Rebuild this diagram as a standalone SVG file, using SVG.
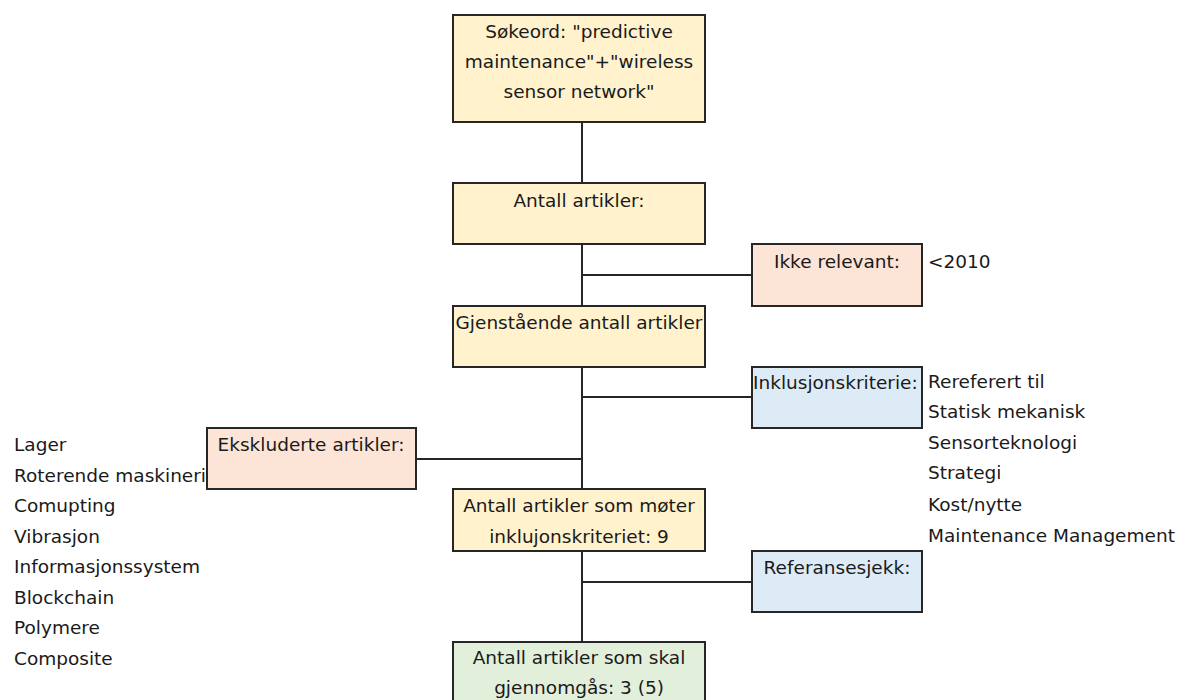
<svg xmlns="http://www.w3.org/2000/svg" width="1182" height="700" viewBox="0 0 1182 700">
<style>
text{font-family:"DejaVu Sans","Liberation Sans",sans-serif;font-size:18.5px;fill:#1a1a1a}
.c{text-anchor:middle}
.box{stroke:#262626;stroke-width:2}
.y{fill:#FFF2CC}.p{fill:#FCE4D6}.b{fill:#DDEBF7}.g{fill:#E2EFDA}
.ln{stroke:#262626;stroke-width:2;fill:none}
</style>
<rect width="1182" height="700" fill="#fff"/>
<g id="connectors">
<path class="ln" d="M582 122V642M582 275H752M582 397H752M416 459H582M582 582H752"/>
</g>
<g id="n1"><rect class="box y" x="453" y="15" width="252" height="107"/>
<text class="c" x="579" y="38">Søkeord: "predictive</text>
<text class="c" x="579" y="68">maintenance"+"wireless</text>
<text class="c" x="579" y="98">sensor network"</text></g>
<g id="n2"><rect class="box y" x="453" y="183" width="252" height="61"/>
<text class="c" x="579" y="207">Antall artikler:</text></g>
<g id="n3"><rect class="box p" x="752" y="244" width="170" height="62"/>
<text class="c" x="837" y="268">Ikke relevant:</text></g>
<text x="928" y="268">&lt;2010</text>
<g id="n4"><rect class="box y" x="453" y="306" width="252" height="61"/>
<text class="c" x="579" y="329">Gjenstående antall artikler</text></g>
<g id="n5"><rect class="box b" x="752" y="367" width="170" height="61"/>
<text x="753" y="389">Inklusjonskriterie:</text></g>
<g id="incl">
<text x="928" y="388">Rereferert til</text>
<text x="928" y="418">Statisk mekanisk</text>
<text x="928" y="449">Sensorteknologi</text>
<text x="928" y="479">Strategi</text>
<text x="928" y="511">Kost/nytte</text>
<text x="928" y="542">Maintenance Management</text>
</g>
<g id="n6"><rect class="box p" x="207" y="428" width="209" height="61"/>
<text class="c" x="311" y="451">Ekskluderte artikler:</text></g>
<g id="excl">
<text x="14" y="451">Lager</text>
<text x="14" y="482">Roterende maskineri</text>
<text x="14" y="512">Comupting</text>
<text x="14" y="543">Vibrasjon</text>
<text x="14" y="573">Informasjonssystem</text>
<text x="14" y="604">Blockchain</text>
<text x="14" y="634">Polymere</text>
<text x="14" y="665">Composite</text>
</g>
<g id="n7"><rect class="box y" x="453" y="489" width="252" height="62"/>
<text class="c" x="579" y="512">Antall artikler som møter</text>
<text class="c" x="579" y="543">inklujonskriteriet: 9</text></g>
<g id="n8"><rect class="box b" x="752" y="551" width="170" height="61"/>
<text class="c" x="837" y="574">Referansesjekk:</text></g>
<g id="n9"><rect class="box g" x="453" y="642" width="252" height="62"/>
<text class="c" x="579" y="664">Antall artikler som skal</text>
<text class="c" x="579" y="694">gjennomgås: 3 (5)</text></g>
</svg>
